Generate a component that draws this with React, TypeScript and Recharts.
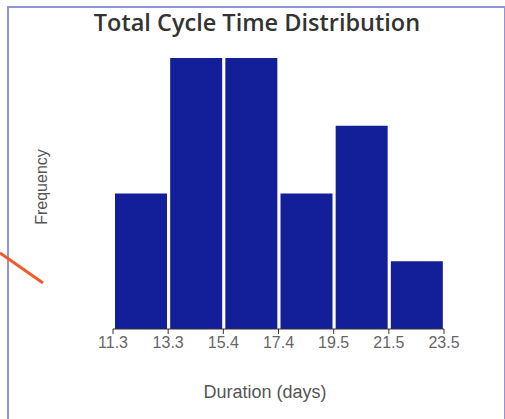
import React from "react";
import { Bar, BarChart, XAxis, YAxis } from "recharts";

const binEdges = ["11.3", "13.3", "15.4", "17.4", "19.5", "21.5", "23.5"];
const frequencies = [2, 4, 4, 2, 3, 1];

const data = frequencies.map((count, i) => ({ mid: i + 0.5, count }));
const edgeTicks = binEdges.map((_, i) => i);

export default function App(): JSX.Element {
  return (
    <div style={{ position: "absolute", left: 0, top: 0, width: 505, height: 419, background: "#fff", overflow: "hidden" }}>
      <div
        style={{
          position: "absolute",
          left: 7,
          top: 6,
          width: 495,
          height: 411,
          border: "2px solid #8d94dc",
        }}
      />
      <div style={{ position: "absolute", left: 0, top: 0 }}>
        <BarChart width={505} height={419} data={data} margin={{ top: 58, right: 61, left: 113, bottom: 20 }}>
          <XAxis
            dataKey="mid"
            type="number"
            domain={[0, 6]}
            ticks={edgeTicks}
            tickFormatter={(v: number) => binEdges[v]}
            height={70}
            tickSize={5}
            tickMargin={3}
            axisLine={{ stroke: "#333" }}
            tickLine={{ stroke: "#333" }}
            tick={{ fill: "#666", fontSize: 16, fontFamily: "Liberation Sans, Arial, sans-serif" }}
            interval={0}
          />
          <YAxis hide domain={[0, 4]} />
          <Bar dataKey="count" fill="#131f99" barSize={52} isAnimationActive={false} />
          <text
            x={257}
            y={31}
            textAnchor="middle"
            fill="#333"
            fontSize={23.5}
            fontWeight={600}
            fontFamily="'Open Sans', sans-serif"
          >
            Total Cycle Time Distribution
          </text>
          <text
            x={265}
            y={398}
            textAnchor="middle"
            fill="#555"
            fontSize={18}
            fontFamily="Liberation Sans, Arial, sans-serif"
          >
            Duration (days)
          </text>
          <text
            x={47}
            y={187}
            textAnchor="middle"
            fill="#555"
            fontSize={16}
            fontFamily="Liberation Sans, Arial, sans-serif"
            transform="rotate(-90 47 187)"
          >
            Frequency
          </text>
        </BarChart>
      </div>
      <svg width={505} height={419} style={{ position: "absolute", left: 0, top: 0, pointerEvents: "none" }}>
        <line x1={0} y1={253} x2={43} y2={283} stroke="#f05a28" strokeWidth={3} />
      </svg>
    </div>
  );
}
